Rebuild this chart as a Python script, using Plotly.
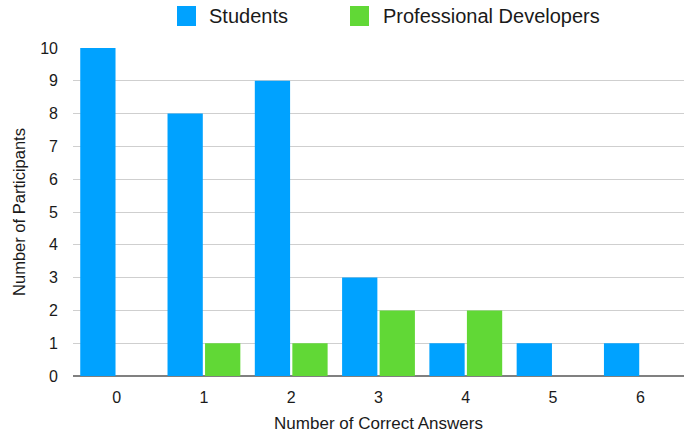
import plotly.graph_objects as go

categories = ["0", "1", "2", "3", "4", "5", "6"]
students = [10, 8, 9, 3, 1, 1, 1]
professionals = [0, 1, 1, 2, 2, 0, 0]
series_names = ["Students", "Professional Developers"]
series_colors = ["#00A2FF", "#61D836"]
y_ticks = list(range(0, 11))

FONT = "Liberation Sans, Arial, Helvetica, sans-serif"
W, H = 686, 437
ML, MR, MT, MB = 73, 2, 48, 61
PW = W - ML - MR
PH = H - MT - MB

fig = go.Figure()
for name, vals, col in zip(series_names, [students, professionals], series_colors):
    fig.add_trace(go.Bar(x=categories, y=vals, name=name, marker=dict(color=col, line=dict(width=0)),
                         showlegend=False))

# legend drawn as shapes + text (to match the large swatches)
def px_x(x):
    return (x - ML) / PW

def px_y(y):
    return (H - MB - y) / PH

legend_pos = [(177, 207), (350, 381)]
for (sx, tx), name, col in zip(legend_pos, series_names, series_colors):
    fig.add_shape(type="rect", xref="paper", yref="paper",
                  x0=px_x(sx), x1=px_x(sx + 19), y0=px_y(26), y1=px_y(6),
                  fillcolor=col, line=dict(width=0))
    fig.add_annotation(text=name, xref="paper", yref="paper", x=px_x(tx), y=px_y(16),
                       xanchor="left", yanchor="middle", showarrow=False,
                       font=dict(family=FONT, size=20, color="#1a1a1a"))

fig.update_layout(
    width=W, height=H,
    margin=dict(l=ML, r=MR, t=MT, b=MB),
    paper_bgcolor="white", plot_bgcolor="white",
    barmode="group", bargap=0.14, bargroupgap=0.06,
    font=dict(family=FONT, color="#1a1a1a"),
)
fig.update_xaxes(
    type="category", showgrid=False, showline=False, ticks="",
    tickfont=dict(size=16, family=FONT, color="#1a1a1a"),
    ticklabelstandoff=10,
    title=dict(text="Number of Correct Answers", font=dict(size=17, family=FONT, color="#1a1a1a"), standoff=12),
)
fig.update_yaxes(
    range=[0, 10], tickvals=y_ticks, showgrid=True, gridcolor="#cfcfcf", gridwidth=1,
    zeroline=True, zerolinecolor="#808080", zerolinewidth=1.5, showline=False, ticks="",
    tickfont=dict(size=16, family=FONT, color="#1a1a1a"),
    ticklabelstandoff=14,
    title=dict(text="Number of Participants", font=dict(size=16.5, family=FONT, color="#1a1a1a"), standoff=10),
)

fig.write_html("out.html")
